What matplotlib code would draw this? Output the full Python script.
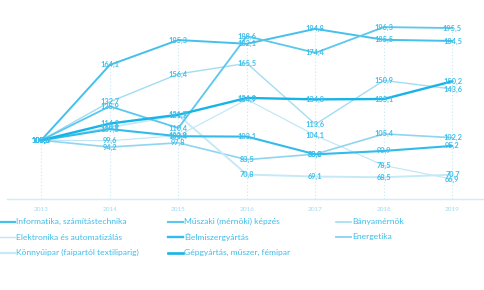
import matplotlib
matplotlib.use("Agg")
import matplotlib.pyplot as plt
from matplotlib.lines import Line2D
import numpy as np

plt.rcParams['font.family'] = ['Lato', 'DejaVu Sans']

years = ['2013', '2014', '2015', '2016', '2017', '2018', '2019']
series_names = [
    'Informatika, számítástechnika',
    'Műszaki (mérnöki) képzés',
    'Bányamérnök',
    'Elektronika és automatizálás',
    'Élelmiszergyártás',
    'Energetika',
    'Könnyűipar (faipartól textiliparig)',
    'Gépgyártás, műszer, fémipar',
]
informatika = [100.0, 164.1, 185.3, 182.1, 194.8, 185.5, 184.5]
muszaki = [100.0, 128.9, 110.4, 188.6, 174.4, 196.3, 195.5]
banyamernok = [100.0, 132.7, 156.4, 165.5, 113.6, 150.9, 143.6]
elektronika = [100.0, 99.6, 103.9, 134.7, 104.1, 78.5, 66.9]
elelmiszer = [100.0, 109.5, 103.4, 103.1, 88.0, 90.9, 95.2]
energetika = [100.0, 94.2, 97.8, 83.5, 88.2, 105.4, 102.2]
konnyuipar = [100.0, 110.9, 121.3, 70.8, 69.1, 68.5, 70.7]
gepgyartas = [100.0, 114.2, 121.7, 136.0, 134.8, 135.1, 150.2]
all_values = [informatika, muszaki, banyamernok, elektronika,
              elelmiszer, energetika, konnyuipar, gepgyartas]

colors = ['#45c0ea', '#5ac7ee', '#a3dcf2', '#bde6f6',
          '#33bbea', '#8fd5f0', '#c6e9f7', '#17b4e8']
widths = [1.4, 1.3, 1.0, 0.8, 1.5, 1.2, 1.4, 1.7]
zorders = [3, 3, 2, 2, 3, 2, 2, 4]

W, H = 484, 290
fig = plt.figure(figsize=(W / 100, H / 100), dpi=100)
ax = fig.add_axes([7 / W, 1 - 199 / H, 1 - 7 / W, (199 - 11) / H])

x = np.arange(len(years))
for vals, c, lw, z in zip(all_values, colors, widths, zorders):
    ax.plot(x, vals, color=c, lw=lw, zorder=z, solid_capstyle='round')

# vertical dotted drop lines
maxes = np.max(np.array(all_values), axis=0)
for xi, m in zip(x, maxes):
    ax.plot([xi, xi], [50, m], color='#c5e9f7', lw=0.8, ls=(0, (1, 2)), zorder=1)

label_color = '#3fbfeb'
for vals in all_values:
    for xi, v in zip(x, vals):
        ax.text(xi, v, f"{v:.1f}".replace('.', ','), ha='center', va='center',
                fontsize=5.3, fontweight='bold', color=label_color, zorder=6)

ax.set_xlim(-0.5, 6.46)
ax.set_ylim(50, 210)
ax.set_yticks(np.arange(50, 211, 20))
ax.set_yticklabels([])
ax.set_xticks(x)
ax.set_xticklabels(years, fontsize=4.6, color='#9fdaf1')
ax.tick_params(axis='x', length=0, pad=6)
ax.tick_params(axis='y', length=2, width=1.2, color='#7fd0ef', direction='out')
ax.spines['left'].set_position(('outward', 5))
ax.spines['left'].set_visible(False)
for s in ['top', 'right']:
    ax.spines[s].set_visible(False)
ax.spines['bottom'].set_color('#cdedf9')
ax.spines['bottom'].set_linewidth(1.0)
ax.patch.set_alpha(0)

# manual legend, row-major 3 columns
col_x = [0, 168, 336]
row_y = [221.5, 237, 252.5]
for i, (name, c, lw) in enumerate(zip(series_names, colors, widths)):
    r, cc = divmod(i, 3)
    x0 = col_x[cc] / W
    yy = 1 - row_y[r] / H
    fig.add_artist(Line2D([x0, x0 + 15 / W], [yy, yy], color=c, lw=lw + 0.2,
                          transform=fig.transFigure))
    fig.text(x0 + 16 / W, yy, name, fontsize=6.1, color='#3dbdea',
             ha='left', va='center')

fig.savefig('out.png', dpi=100)
